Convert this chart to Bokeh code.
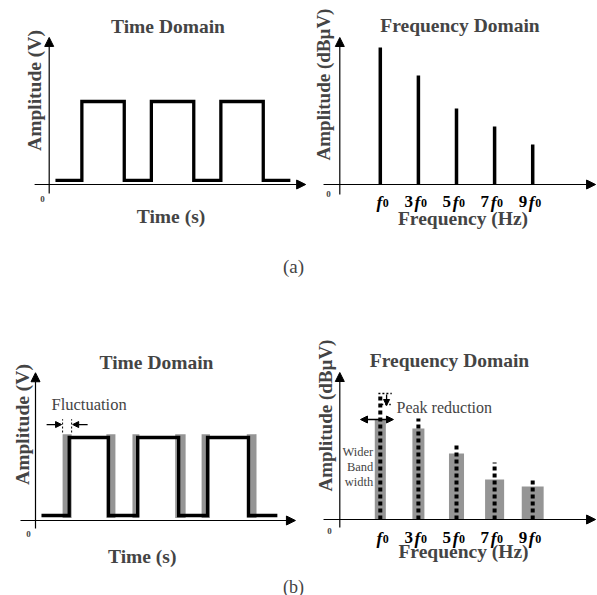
import math
from bokeh.plotting import figure
from bokeh.models import Range1d, Arrow, NormalHead, Label
from bokeh.core.properties import value
from bokeh.embed import file_html
from bokeh.resources import INLINE

# ---------------- data ----------------
# (a) time domain: ideal square wave (time in arbitrary units, volts)
t_start_a = 0.9
t_end_a = 34.7
rise_a = [4.7, 14.7, 24.7]
fall_a = [10.8, 20.8, 30.8]
v_low_a = 0.25
v_high_a = 5.0

# harmonics shared by both spectra
harmonic = [1, 3, 5, 7, 9]
harmonic_coef = ["", "3", "5", "7", "9"]

# (a) frequency domain: line spectrum (dBuV, arbitrary)
amp_a = [68.5, 54.5, 38, 29, 20]

# (b) time domain: jittered square wave
t_start_b = 0.86
t_end_b = 34.8
rise_b = [4.85, 14.7, 24.75]
fall_b = [10.5, 20.6, 30.65]
v_low_b = 0.3
v_high_b = 5.0
jit_start = [3.9, 10.2, 13.95, 20.1, 23.9, 30.4]
jit_end = [5.2, 11.5, 14.95, 21.6, 25.1, 31.8]

# (b) frequency domain: original peaks (dotted) and spread bars
amp_b_ref = [63, 50.5, 38, 28.5, 20]
amp_b = [50, 45.5, 33, 20, 16.5]
bandwidth_b = [0.58, 0.63, 0.79, 1.0, 1.15]

# ---------------- helpers ----------------
W, H = 597, 595
X0, X1, Y0, Y1 = 0, W, 0, H
FONT = "Liberation Serif"
GRAY = "#959595"


def xrange_for(px_at, val_at, ppu):
    return Range1d(val_at + (X0 - px_at) / ppu, val_at + (X1 - px_at) / ppu)


def yrange_for(py_at, val_at, ppu):
    return Range1d(val_at - (Y1 - py_at) / ppu, val_at + (py_at - Y0) / ppu)


def square(t0, t1, rises, falls, lo, hi):
    xs, ys = [t0], [lo]
    for r, f in zip(rises, falls):
        xs += [r, r, f, f]
        ys += [lo, hi, hi, lo]
    xs.append(t1)
    ys.append(lo)
    return xs, ys


p = figure(width=W, height=H, x_range=Range1d(X0, X1), y_range=Range1d(Y1, Y0),
           x_axis_location=None, y_axis_location=None, min_border=0,
           output_backend="svg", toolbar_location=None, title=None)
p.grid.visible = False
p.outline_line_color = None
p.background_fill_color = "white"
p.border_fill_color = "white"

p.extra_x_ranges = {
    "tA": xrange_for(48.7, 0, 6.95),
    "tB": xrange_for(35, 0, 6.95),
    "f": xrange_for(456, 5, 19.05),
}
p.extra_y_ranges = {
    "vA": yrange_for(184, 0, 16.6),
    "vB": yrange_for(520, 0, 16.6),
    "dA": yrange_for(184, 0, 2),
    "dB": yrange_for(519, 0, 2),
}


def arrow(x0, y0, x1, y1, xr, yr, size=9, lw=1.2, both=False):
    head = lambda: NormalHead(size=size, fill_color="black", line_color="black", line_width=1)
    p.add_layout(Arrow(end=head(), start=head() if both else None,
                       x_start=x0, y_start=y0, x_end=x1, y_end=y1,
                       x_range_name=xr, y_range_name=yr,
                       line_color="black", line_width=lw))


def label(x, y, text, size="19.5px", style="bold", align="center",
          baseline="alphabetic", angle=0, **kw):
    p.add_layout(Label(x=x, y=y, text=text, text_font=FONT, text_font_size=size,
                       text_font_style=style, text_align=align,
                       text_baseline=baseline, angle=angle, **kw))


# ---------------- axes ----------------
arrow(-2.1, 0, 36.9, 0, "tA", "vA")
arrow(0, -0.54, 0, 8.86, "tA", "vA")
arrow(-1.98, 0, 12.3, 0, "f", "dA")
arrow(-1.126, -5, -1.126, 73.5, "f", "dA")
arrow(-2.16, 0, 37.4, 0, "tB", "vB")
arrow(0, -0.48, 0, 8.9, "tB", "vB")
arrow(-1.98, 0, 12.3, 0, "f", "dB")
arrow(-1.126, -4, -1.126, 73.5, "f", "dB")

# ---------------- (a) ----------------
xs, ys = square(t_start_a, t_end_a, rise_a, fall_a, v_low_a, v_high_a)
p.line(xs, ys, x_range_name="tA", y_range_name="vA", line_color="black",
       line_width=3.3, line_join="miter")

p.segment(x0=harmonic, y0=0, x1=harmonic, y1=amp_a, x_range_name="f",
          y_range_name="dA", line_color="black", line_width=3.5, line_cap="butt")

# ---------------- (b) ----------------
p.quad(left=jit_start, right=jit_end, bottom=0.15, top=5.2, x_range_name="tB",
       y_range_name="vB", fill_color=GRAY, line_color=None)
xs, ys = square(t_start_b, t_end_b, rise_b, fall_b, v_low_b, v_high_b)
p.line(xs, ys, x_range_name="tB", y_range_name="vB", line_color="black",
       line_width=3.3, line_join="miter")

p.vbar(x=harmonic, width=bandwidth_b, top=amp_b, bottom=0, x_range_name="f",
       y_range_name="dB", fill_color=GRAY, line_color=None)
p.segment(x0=harmonic, y0=0, x1=harmonic, y1=amp_b_ref, x_range_name="f",
          y_range_name="dB", line_color="black", line_width=4,
          line_dash="4 3", line_cap="butt")

# fluctuation marker
yfl = 5.78
p.segment(x0=[jit_start[0], jit_end[0]], y0=[5.3, 5.3], x1=[jit_start[0], jit_end[0]],
          y1=[6.1, 6.1], x_range_name="tB", y_range_name="vB",
          line_color="black", line_width=1, line_dash="2 2")
arrow(jit_start[0] - 2.3, yfl, jit_start[0] - 0.15, yfl, "tB", "vB", size=6, lw=1.3)
arrow(jit_end[0] + 2.3, yfl, jit_end[0] + 0.15, yfl, "tB", "vB", size=6, lw=1.3)

# peak reduction marker
p.segment(x0=[0.9, 1.05], y0=[amp_b_ref[0], amp_b_ref[0] - 5.5],
          x1=[1.6, 1.55], y1=[amp_b_ref[0], amp_b_ref[0] - 5.5],
          x_range_name="f", y_range_name="dB", line_color="black",
          line_width=1.5, line_dash="2 2")
arrow(1.33, amp_b_ref[0] - 0.5, 1.33, amp_b_ref[0] - 6, "f", "dB", size=6, lw=1.3)
# wider bandwidth marker
arrow(harmonic[0] - 1.04, amp_b[0], harmonic[0] + 0.69, amp_b[0], "f", "dB",
      size=7, lw=1.5, both=True)

# ---------------- tick labels (harmonics) ----------------
for ybase in (201, 537):
    p.text(x=harmonic, y=ybase, text=["f"] * len(harmonic), x_range_name="f",
           text_font=value(FONT), text_font_size="17.5px", text_font_style="bold italic",
           text_align="right", text_baseline="alphabetic", x_offset=2)
    p.text(x=harmonic, y=ybase, text=["0"] * len(harmonic), x_range_name="f",
           text_font=value(FONT), text_font_size="12px", text_font_style="bold",
           text_align="left", text_baseline="alphabetic", x_offset=2.5, y_offset=1)
    p.text(x=harmonic, y=ybase, text=harmonic_coef, x_range_name="f",
           text_font=value(FONT), text_font_size="17px", text_font_style="bold",
           text_align="right", text_baseline="alphabetic", x_offset=-5.5)

# ---------------- titles, axis labels ----------------
label(167.5, 26, "Time Domain")
label(459.5, 25, "Frequency Domain")
label(170.5, 216, "Time (s)")
label(462.5, 218, "Frequency (Hz)")
label(34, 90, "Amplitude (V)", angle=math.pi / 2)
label(323, 84, "Amplitude (dBµV)", size="19px", angle=math.pi / 2)

label(156, 362, "Time Domain")
label(449, 360, "Frequency Domain")
label(141.7, 556, "Time (s)")
label(463, 551, "Frequency (Hz)")
label(22, 424, "Amplitude (V)", angle=math.pi / 2)
label(325, 415, "Amplitude (dBµV)", size="19px", angle=math.pi / 2)

for (ox, oy) in [(42, 198), (328, 193), (28, 533), (329, 530)]:
    label(ox, oy, "0", size="9px", baseline="middle")

label(293, 266, "(a)", size="19px", style="normal")
label(293, 586, "(b)", size="18px", style="normal")

label(51, 404, "Fluctuation", size="16.5px", style="normal", align="left")
label(396, 407, "Peak reduction", size="16px", style="normal", align="left")
for txt, yy in zip(["Wider", "Band", "width"], [451, 466, 481]):
    label(harmonic[0] - bandwidth_b[0] / 2, yy, txt, size="12.5px", style="normal",
          align="right", x_range_name="f", x_offset=-1.5)

open("out.html", "w").write(file_html(p, INLINE))
